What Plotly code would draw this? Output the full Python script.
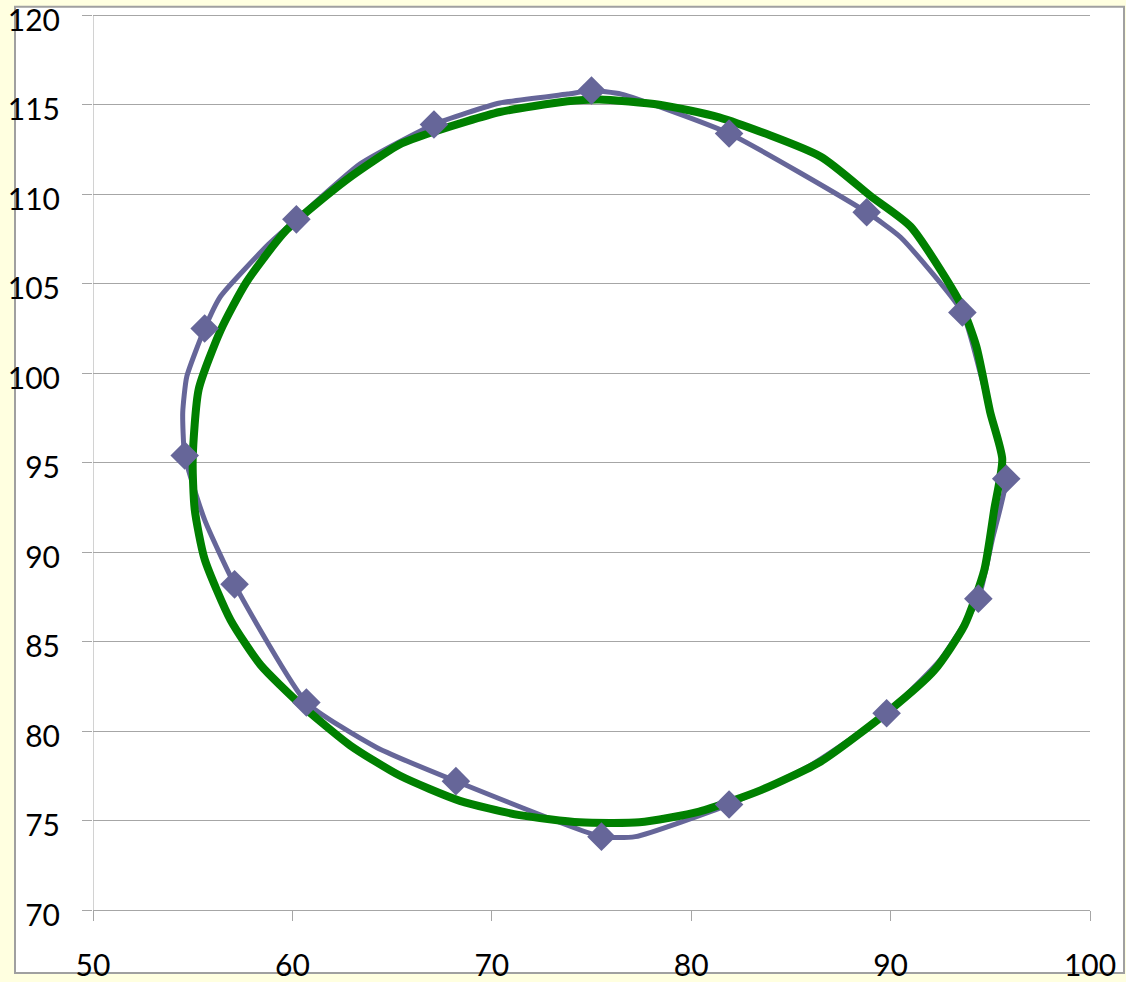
import plotly.graph_objects as go

# Measured profile: marker points (diamonds)
meas_x = [75.0, 81.9, 88.8, 93.6, 95.8, 94.4, 89.8, 81.9, 75.5, 68.2, 60.7, 57.1, 54.6, 55.6, 60.2, 67.1]
meas_y = [115.8, 113.4, 109.0, 103.4, 94.1, 87.4, 81.0, 75.9, 74.1, 77.2, 81.6, 88.2, 95.4, 102.5, 108.6, 113.9]

# Measured profile: traced outline (closed loop)
trace_x = [75.0, 76.5, 81.9, 88.8, 90.5, 93.6, 94.5, 95.3, 95.8, 95.1, 94.4, 92.5, 89.8, 86.0, 81.9,
           77.2, 75.5, 68.2, 64.2, 60.7, 57.1, 55.6, 54.6, 54.5, 54.7, 55.6, 56.4, 58.8, 60.2, 63.4,
           67.1, 70.4, 73.8, 75.0]
trace_y = [115.8, 115.6, 113.4, 109.0, 107.6, 103.4, 100.0, 96.5, 94.1, 90.7, 87.4, 84.0, 81.0, 78.1, 75.9,
           74.1, 74.1, 77.2, 79.1, 81.6, 88.2, 91.8, 95.4, 97.8, 99.8, 102.5, 104.3, 107.2, 108.6, 111.7,
           113.9, 115.1, 115.6, 115.8]

# Reference contour (closed loop)
ref_x = [75.4, 78.4, 81.4, 86.5, 89.0, 91.0, 93.5, 94.3, 95.0, 95.6, 95.2, 94.7, 93.7, 92.2, 90.0,
         86.5, 83.5, 80.4, 77.4, 74.4, 71.4, 68.4, 65.4, 62.9, 60.4, 58.4, 56.9, 55.6, 55.1, 55.0,
         55.3, 56.4, 57.7, 59.7, 62.7, 65.4, 67.1, 70.4, 73.8, 75.4]
ref_y = [115.3, 115.0, 114.3, 112.1, 109.9, 108.2, 103.9, 101.5, 97.8, 95.2, 92.4, 89.0, 85.9, 83.4, 81.2,
         78.3, 76.7, 75.5, 74.9, 74.9, 75.3, 76.1, 77.5, 79.2, 81.5, 83.7, 86.2, 89.6, 92.4, 95.2,
         99.1, 102.4, 105.1, 108.0, 110.8, 112.8, 113.5, 114.6, 115.2, 115.3]

x_ticks = [50, 60, 70, 80, 90, 100]
y_ticks = [70, 75, 80, 85, 90, 95, 100, 105, 110, 115, 120]

BLUE = "#666699"
GREEN = "#008000"
GRID = "#A6A6A6"
FONT = "Lato"

Y_MIN, Y_MAX = 70, 120.3

fig = go.Figure()

fig.add_trace(go.Scatter(
    x=trace_x, y=trace_y, mode="lines",
    line=dict(color=BLUE, width=5, shape="spline", smoothing=0.5),
    hoverinfo="skip", showlegend=False,
))
fig.add_trace(go.Scatter(
    x=ref_x, y=ref_y, mode="lines",
    line=dict(color=GREEN, width=8, shape="spline", smoothing=0.6),
    showlegend=False,
))
fig.add_trace(go.Scatter(
    x=meas_x, y=meas_y, mode="markers",
    marker=dict(symbol="diamond", size=22, color=BLUE, line=dict(width=0)),
    showlegend=False,
))

W, H = 1126, 982
ml, mr, mb = 93, 36, 72
# plot top placed so that y=120 sits at ~15.7 px from the top
unit_px = (910 - 15.7) / 50.0
mt = 15.7 - (Y_MAX - 120) * unit_px
pw = W - ml - mr
ph = H - mt - mb


def px_to_paper_x(px):
    return (px - ml) / pw


def px_to_paper_y(py):
    return (H - mb - py) / ph


# white chart panel with thin grey frame behind the plot
fig.add_shape(
    type="rect", xref="paper", yref="paper", layer="below",
    x0=px_to_paper_x(15), x1=px_to_paper_x(1124),
    y0=px_to_paper_y(973), y1=px_to_paper_y(7),
    fillcolor="white", line=dict(color="#A0A0A0", width=2),
)

fig.update_layout(
    width=W, height=H,
    margin=dict(l=ml, r=mr, t=mt, b=mb, autoexpand=False),
    paper_bgcolor="#FFFFE0",
    plot_bgcolor="rgba(0,0,0,0)",
    font=dict(family=FONT, size=30, color="black"),
    showlegend=False,
)

fig.update_xaxes(
    range=[50, 100], tickvals=x_ticks, ticktext=[str(v) for v in x_ticks],
    showgrid=False, zeroline=False,
    showline=True, linecolor=GRID, linewidth=1,
    ticks="outside", ticklen=10, tickcolor=GRID, tickwidth=1,
    tickfont=dict(family=FONT, size=30, color="black"),
    ticklabelstandoff=19,
)
fig.update_yaxes(
    range=[Y_MIN, Y_MAX], tickvals=y_ticks, ticktext=[str(v) for v in y_ticks],
    showgrid=True, gridcolor=GRID, gridwidth=1, zeroline=False,
    showline=False,
    ticks="outside", ticklen=10, tickcolor=GRID, tickwidth=1,
    tickfont=dict(family=FONT, size=30, color="black"),
    ticklabelstandoff=16, ticklabelshift=5, ticklabeloverflow="allow",
)

# vertical axis line from y=70 up to y=120 only
fig.add_shape(
    type="line", xref="x", yref="y", x0=50, x1=50, y0=Y_MIN, y1=120,
    line=dict(color=GRID, width=1),
)

fig.write_html("out.html")
